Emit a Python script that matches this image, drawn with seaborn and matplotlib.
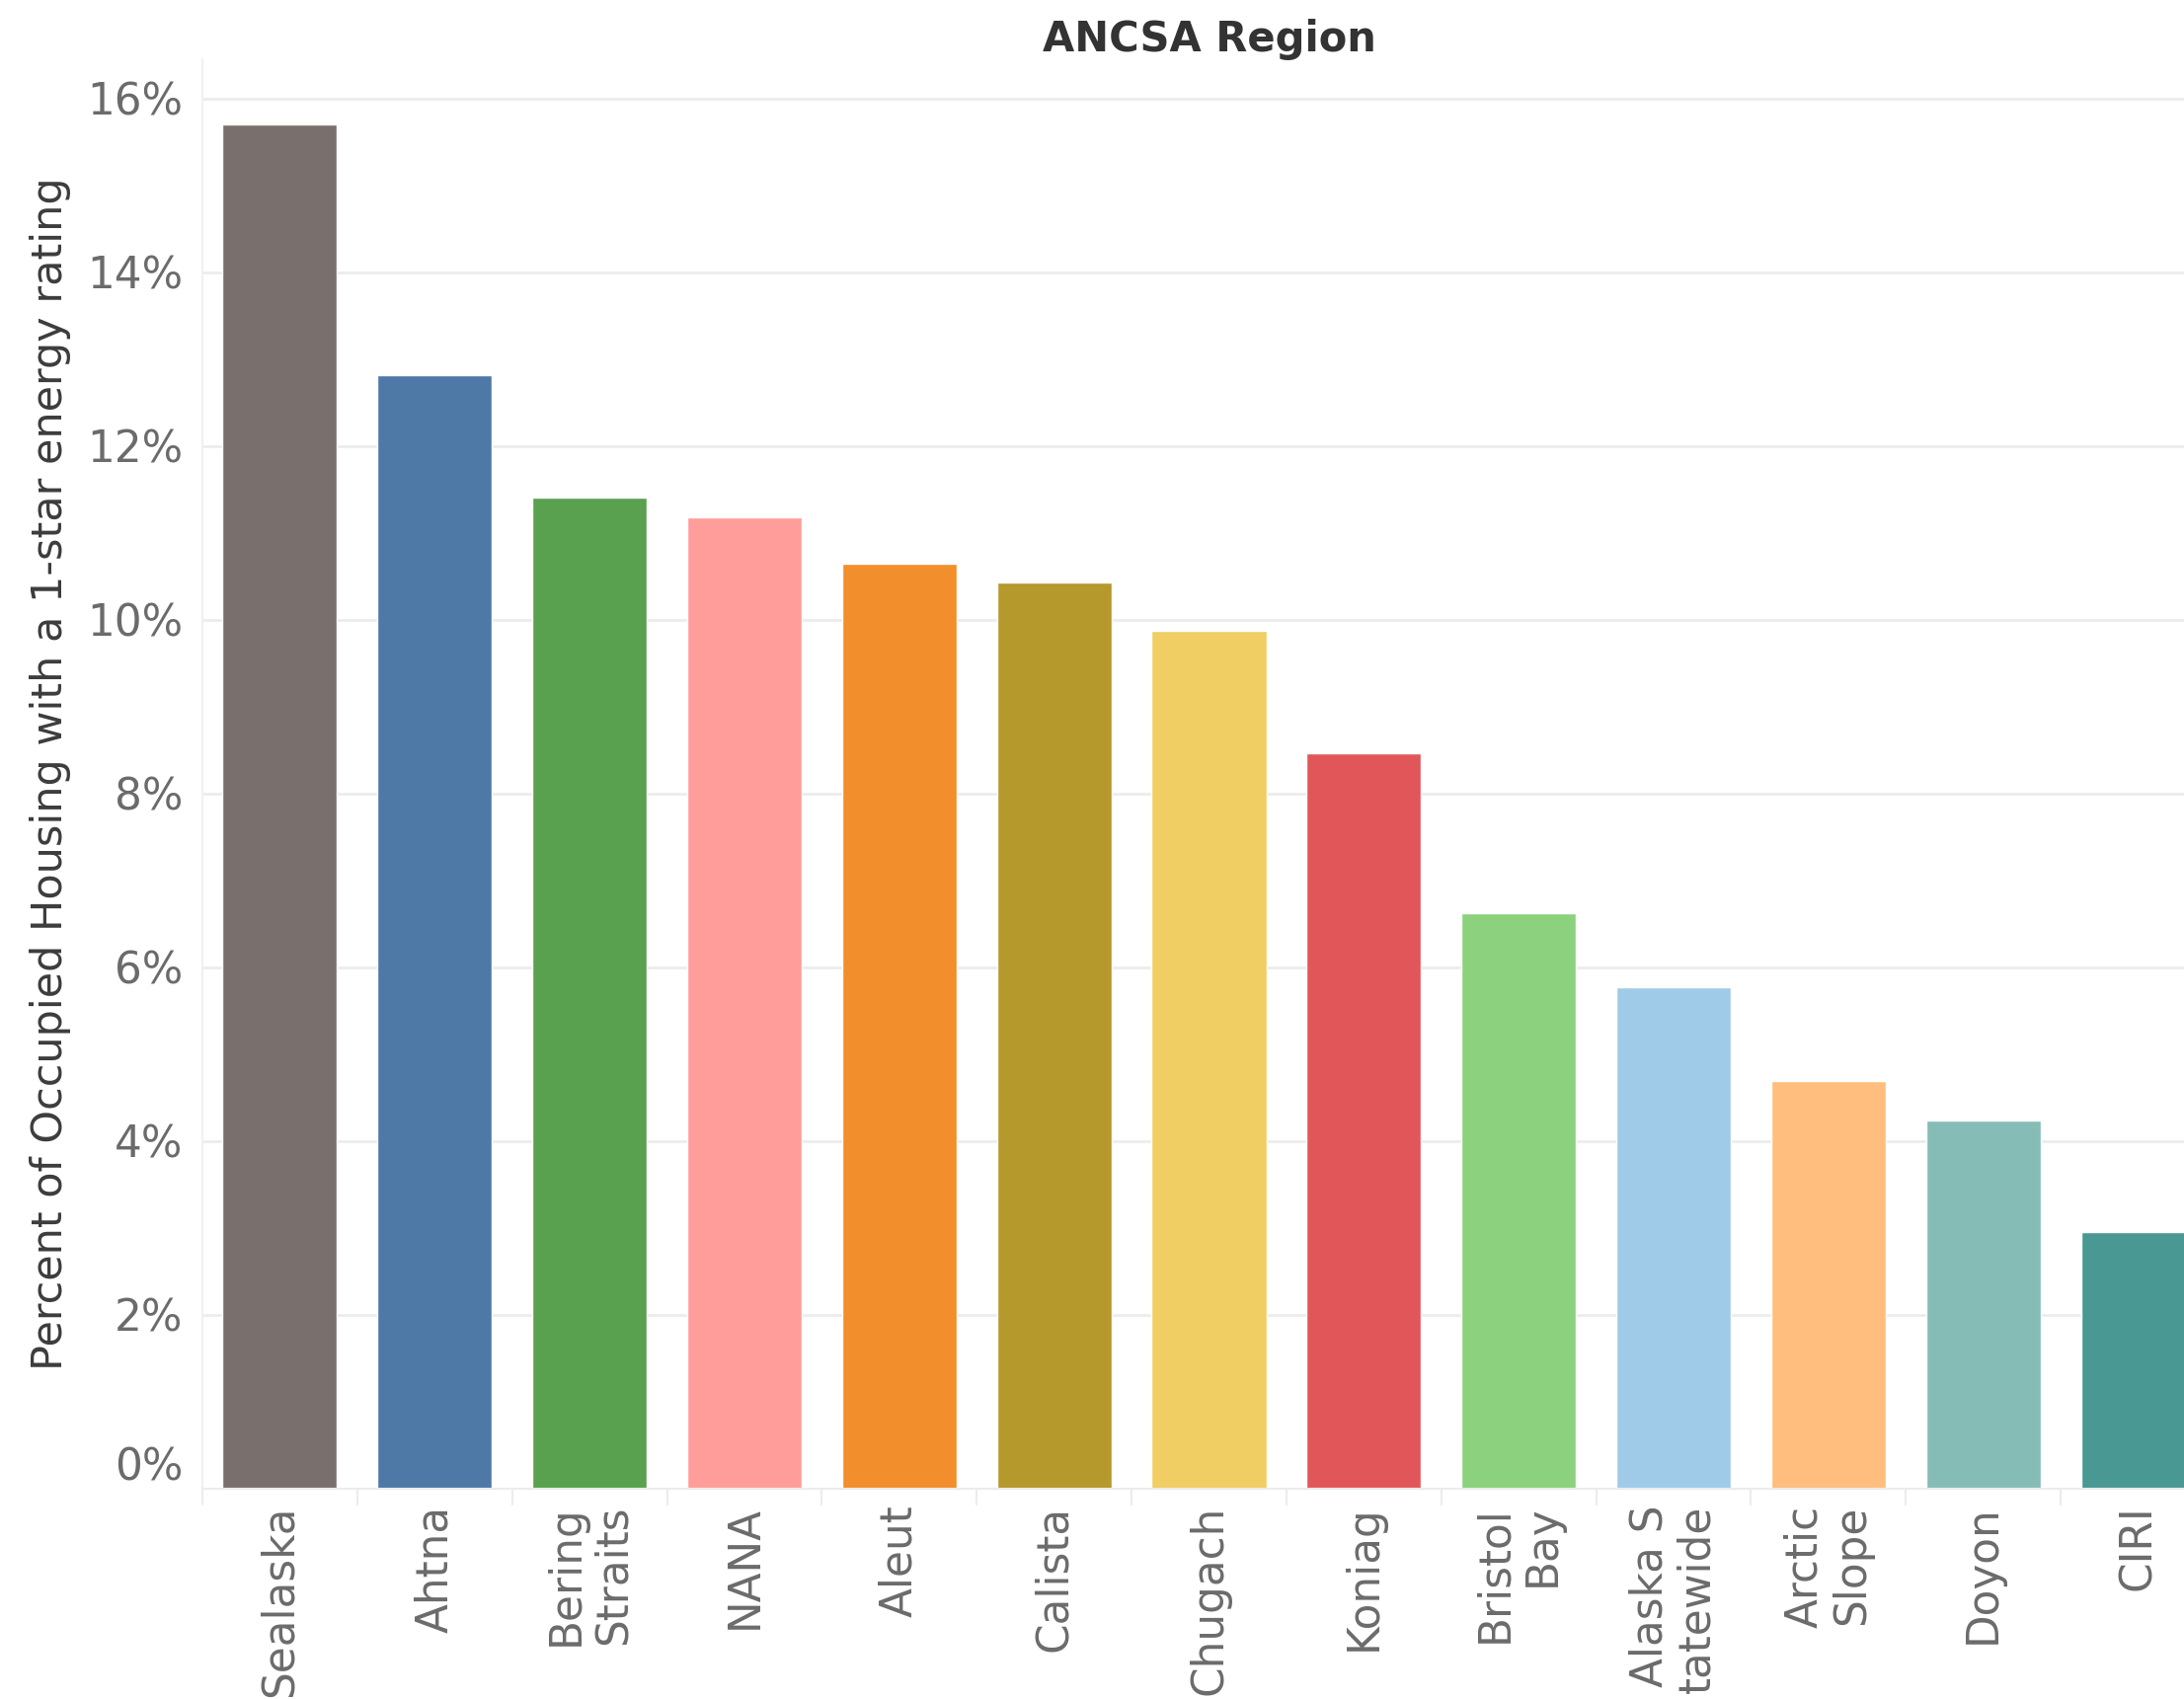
import matplotlib
matplotlib.use("Agg")
import matplotlib.pyplot as plt
import seaborn as sns
import pandas as pd
from matplotlib.ticker import FuncFormatter

# Values (percent of occupied housing)
regions = ["Sealaska", "Ahtna", "Bering\nStraits", "NANA", "Aleut", "Calista",
           "Chugach", "Koniag", "Bristol\nBay", "Alaska S\ntatewide",
           "Arctic\nSlope", "Doyon", "CIRI"]
pct_one_star = [15.70, 12.81, 11.41, 11.18, 10.65, 10.43, 9.87, 8.46, 6.62,
                5.77, 4.69, 4.24, 2.95]
bar_colors = ["#79706E", "#4E79A7", "#59A14F", "#FF9D9A", "#F28E2B", "#B6992D",
              "#F1CE63", "#E15759", "#8CD17D", "#A0CBE8", "#FFBE7D", "#86BCB6",
              "#499894"]
y_ticks = [0, 2, 4, 6, 8, 10, 12, 14, 16]

df = pd.DataFrame({"region": regions, "pct": pct_one_star})

sns.set_theme(style="white")
plt.rcParams["font.family"] = ["DejaVu Sans"]

W, H = 2212, 1721
fig = plt.figure(figsize=(W / 100, H / 100), dpi=100)
# axes runs past the right edge, like the cropped original
ax = fig.add_axes([205 / W, (H - 1508) / H, (2244 - 205) / W, (1508 - 60) / H])

sns.barplot(data=df, x="region", y="pct", hue="region", palette=bar_colors,
            width=0.74, legend=False, saturation=1, ax=ax)

ax.set_xlim(-0.5, len(regions) - 0.5)
ax.set_ylim(0, 16.45)
ax.set_yticks(y_ticks)
ax.yaxis.set_major_formatter(FuncFormatter(lambda v, _: f"{v:.0f}%"))
ax.grid(axis="y", color="#ececec", linewidth=2)
ax.set_axisbelow(True)

for side in ["top", "right"]:
    ax.spines[side].set_visible(False)
ax.spines["left"].set_color("#f0f0f0")
ax.spines["left"].set_linewidth(1.5)
ax.spines["bottom"].set_color("#ececec")
ax.spines["bottom"].set_linewidth(1.5)

ax.tick_params(axis="y", length=0, pad=14, labelsize=31.5, labelcolor="#6b6b6b")
ax.tick_params(axis="x", length=0, pad=12, labelsize=31.5, labelcolor="#6b6b6b")
for lbl in ax.get_xticklabels():
    lbl.set_rotation(90)
    lbl.set_va("top")
    lbl.set_ha("center")
    lbl.set_multialignment("right")
    lbl.set_linespacing(1.15)

# tableau keeps the 0% label above the baseline
ylabels = ax.get_yticklabels()
ylabels[0].set_va("bottom")

# faint category separators under the axis
for i in range(len(regions) + 1):
    ax.plot([i - 0.5, i - 0.5], [0, -0.18], color="#ececec", linewidth=1.5,
            clip_on=False)

ax.set_xlabel("")
ax.set_ylabel("Percent of Occupied Housing with a 1-star energy rating",
              fontsize=31, color="#3c3c3c", labelpad=12)
ax.set_title("ANCSA Region", fontsize=30, fontweight="bold", color="#333333",
             pad=6)

fig.savefig("out.png", dpi=100)
plt.close(fig)
